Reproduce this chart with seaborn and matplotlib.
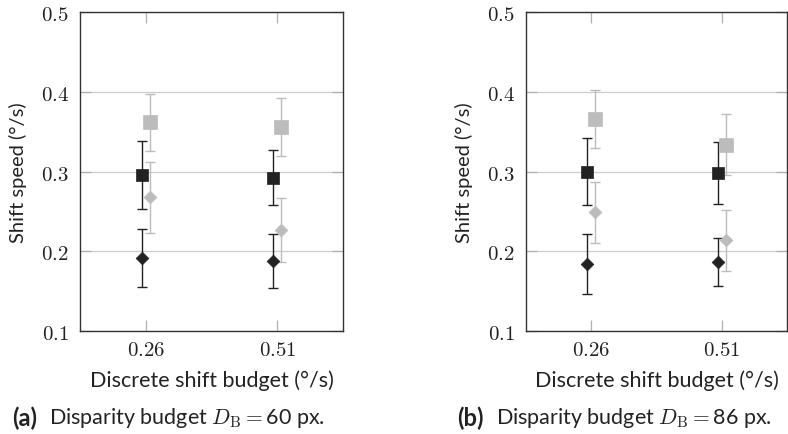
import matplotlib
matplotlib.use("Agg")
import matplotlib.pyplot as plt
import seaborn as sns
import pandas as pd

sns.set_theme(style="white")
plt.rcParams["font.family"] = ["Lato", "DejaVu Sans"]
plt.rcParams["mathtext.fontset"] = "cm"

# Data: shift speed (deg/s) per discrete shift budget, two conditions
budgets = ["0.26", "0.51"]
series = ["black_square", "black_diamond", "grey_square", "grey_diamond"]

# Panel (a): disparity budget 60 px
a_mean = {"black_square": [0.295, 0.292], "black_diamond": [0.1915, 0.1878],
          "grey_square": [0.3617, 0.3562], "grey_diamond": [0.2676, 0.2271]}
a_low = {"black_square": [0.2526, 0.258], "black_diamond": [0.1548, 0.1543],
         "grey_square": [0.3257, 0.3194], "grey_diamond": [0.2225, 0.1865]}
a_high = {"black_square": [0.338, 0.3265], "black_diamond": [0.228, 0.222],
          "grey_square": [0.3968, 0.3926], "grey_diamond": [0.3123, 0.2664]}

# Panel (b): disparity budget 86 px
b_mean = {"black_square": [0.2998, 0.2981], "black_diamond": [0.1844, 0.1865],
          "grey_square": [0.3662, 0.3336], "grey_diamond": [0.2488, 0.2141]}
b_low = {"black_square": [0.2576, 0.2588], "black_diamond": [0.1468, 0.1564],
         "grey_square": [0.3295, 0.2952], "grey_diamond": [0.2103, 0.1757]}
b_high = {"black_square": [0.3416, 0.337], "black_diamond": [0.222, 0.2166],
          "grey_square": [0.4022, 0.3725], "grey_diamond": [0.2864, 0.2517]}

y_ticks = [0.1, 0.2, 0.3, 0.4, 0.5]

colors = {"black_square": "#222222", "black_diamond": "#222222",
          "grey_square": "#bcbcbc", "grey_diamond": "#bcbcbc"}
markers = {"black_square": "s", "black_diamond": "D",
           "grey_square": "s", "grey_diamond": "D"}
sizes = {"black_square": 80, "black_diamond": 42,
         "grey_square": 90, "grey_diamond": 42}
offsets = {"black_square": -0.03, "black_diamond": -0.03,
           "grey_square": 0.03, "grey_diamond": 0.03}


def build_frame(mean, low, high):
    rows = []
    for s in series:
        for i, b in enumerate(budgets):
            rows.append({"series": s, "budget": b, "pos": i + offsets[s],
                         "speed": mean[s][i], "low": low[s][i], "high": high[s][i]})
    return pd.DataFrame(rows)


W, H = 788, 435
fig = plt.figure(figsize=(W / 100, H / 100), dpi=100)
ax_a = fig.add_axes([80 / W, 1 - 332 / H, 263 / W, 319 / H])
ax_b = fig.add_axes([526 / W, 1 - 332 / H, 261 / W, 319 / H])


def draw_panel(ax, df):
    for s in series:
        d = df[df["series"] == s]
        ax.errorbar(d["pos"], d["speed"],
                    yerr=[d["speed"] - d["low"], d["high"] - d["speed"]],
                    fmt="none", ecolor=colors[s], elinewidth=1.0,
                    capsize=3.6, capthick=1.0, zorder=2)
    # grey series first so the black markers sit on top
    for s in ["grey_square", "grey_diamond", "black_square", "black_diamond"]:
        d = df[df["series"] == s]
        sns.scatterplot(data=d, x="pos", y="speed", ax=ax, marker=markers[s],
                        s=sizes[s], color=colors[s], edgecolor=colors[s],
                        linewidth=0.5, zorder=3, legend=False)
    ax.set_xlim(-0.5, 1.5)
    ax.set_ylim(0.1, 0.5)
    ax.set_xticks([0, 1])
    ax.set_xticklabels([f"${b}$" for b in budgets], fontsize=15)
    ax.set_yticks(y_ticks)
    ax.set_yticklabels([f"${t:.1f}$" for t in y_ticks], fontsize=15)
    ax.yaxis.grid(True, color="#cccccc", linewidth=0.9, zorder=0)
    ax.xaxis.grid(False)
    ax.set_axisbelow(True)
    ax.tick_params(axis="both", direction="in", length=8, width=0.9,
                   color="#b0b0b0", top=True, right=True, left=True, bottom=True,
                   pad=6, labelcolor="#222222")
    ax.tick_params(axis="y", pad=8)
    for sp in ax.spines.values():
        sp.set_color("#333333")
        sp.set_linewidth(1.0)
    ax.set_xlabel("Discrete shift budget (°/s)", fontsize=15.5, color="#222222",
                  labelpad=7)
    ax.set_ylabel("Shift speed (°/s)", fontsize=14.5, color="#222222", labelpad=10)


draw_panel(ax_a, build_frame(a_mean, a_low, a_high))
draw_panel(ax_b, build_frame(b_mean, b_low, b_high))

cap_y = 1 - 418 / H
fig.text(12 / W, cap_y, "(a)", fontsize=17, fontweight="bold", va="center",
         color="#222222")
fig.text(49 / W, cap_y, r"Disparity budget $D_\mathrm{B}=$60 px.", fontsize=15.5,
         va="center", color="#222222")
fig.text(457 / W, cap_y, "(b)", fontsize=17, fontweight="bold", va="center",
         color="#222222")
fig.text(496 / W, cap_y, r"Disparity budget $D_\mathrm{B}=$86 px.", fontsize=15.5,
         va="center", color="#222222")

fig.savefig("out.png", dpi=100)
